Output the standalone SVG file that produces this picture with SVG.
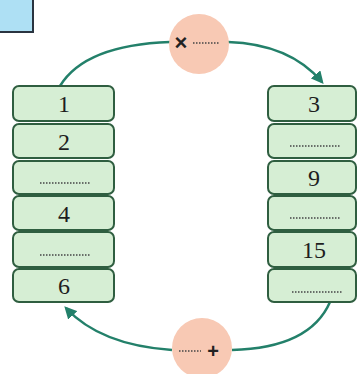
<svg xmlns="http://www.w3.org/2000/svg" width="360" height="374" viewBox="0 0 360 374">
<style>
.box{fill:#d6eed4;stroke:#2f5e40;stroke-width:2}
.num{font-family:"Liberation Serif",serif;font-size:24px;fill:#1e1e1e;text-anchor:middle}
.blank{stroke:#444;stroke-width:1.5;stroke-dasharray:1.5 1.5}
.conn{fill:none;stroke:#23806a;stroke-width:2.5}
.op{fill:#f8c9b4}
</style>
<defs>
<marker id="ah" viewBox="0 0 10 10" refX="8" refY="5" markerWidth="5" markerHeight="5" orient="auto">
<path d="M0,0 L10,5 L0,10 Z" fill="#23806a"/>
</marker>
</defs>
<rect x="-5" y="-5" width="38" height="37" fill="#aee0f4" stroke="#2a3440" stroke-width="2"/>
<g id="connectors">
<path class="conn" d="M60,86 Q85,45 170,42"/>
<path class="conn" d="M228,42 Q290,44 322,82" marker-end="url(#ah)"/>
<path class="conn" d="M330,302 Q310,348 232,350"/>
<path class="conn" d="M172,350 Q100,345 66,308" marker-end="url(#ah)"/>
</g>
<g id="op-top">
<circle class="op" cx="199" cy="44" r="30"/>
<text x="181" y="50" font-family="Liberation Sans,sans-serif" font-size="22" font-weight="bold" fill="#222" text-anchor="middle">×</text>
<line class="blank" x1="193" y1="43" x2="220" y2="43"/>
</g>
<g id="op-bottom">
<circle class="op" cx="202" cy="348" r="30"/>
<line class="blank" x1="179" y1="351" x2="201" y2="351"/>
<text x="213" y="358" font-family="Liberation Sans,sans-serif" font-size="20" font-weight="bold" fill="#222" text-anchor="middle">+</text>
</g>
<g id="left-1"><rect class="box" x="13" y="86" width="101" height="35" rx="6"/><text class="num" x="64" y="112">1</text></g>
<g id="left-2"><rect class="box" x="13" y="124" width="101" height="34" rx="6"/><text class="num" x="64" y="150">2</text></g>
<g id="left-3"><rect class="box" x="13" y="161" width="101" height="33" rx="6"/><line class="blank" x1="40" y1="183" x2="90" y2="183"/></g>
<g id="left-4"><rect class="box" x="13" y="196" width="101" height="34" rx="6"/><text class="num" x="64" y="222">4</text></g>
<g id="left-5"><rect class="box" x="13" y="232" width="101" height="35" rx="6"/><line class="blank" x1="40" y1="255" x2="90" y2="255"/></g>
<g id="left-6"><rect class="box" x="13" y="269" width="101" height="33" rx="6"/><text class="num" x="64" y="294">6</text></g>
<g id="right-1"><rect class="box" x="268" y="86" width="88" height="35" rx="6"/><text class="num" x="314" y="112">3</text></g>
<g id="right-2"><rect class="box" x="268" y="124" width="88" height="34" rx="6"/><line class="blank" x1="290" y1="146" x2="340" y2="146"/></g>
<g id="right-3"><rect class="box" x="268" y="161" width="88" height="33" rx="6"/><text class="num" x="314" y="186">9</text></g>
<g id="right-4"><rect class="box" x="268" y="196" width="88" height="34" rx="6"/><line class="blank" x1="290" y1="218" x2="340" y2="218"/></g>
<g id="right-5"><rect class="box" x="268" y="232" width="88" height="35" rx="6"/><text class="num" x="314" y="258">15</text></g>
<g id="right-6"><rect class="box" x="268" y="269" width="88" height="33" rx="6"/><line class="blank" x1="292" y1="292" x2="342" y2="292"/></g>
</svg>
